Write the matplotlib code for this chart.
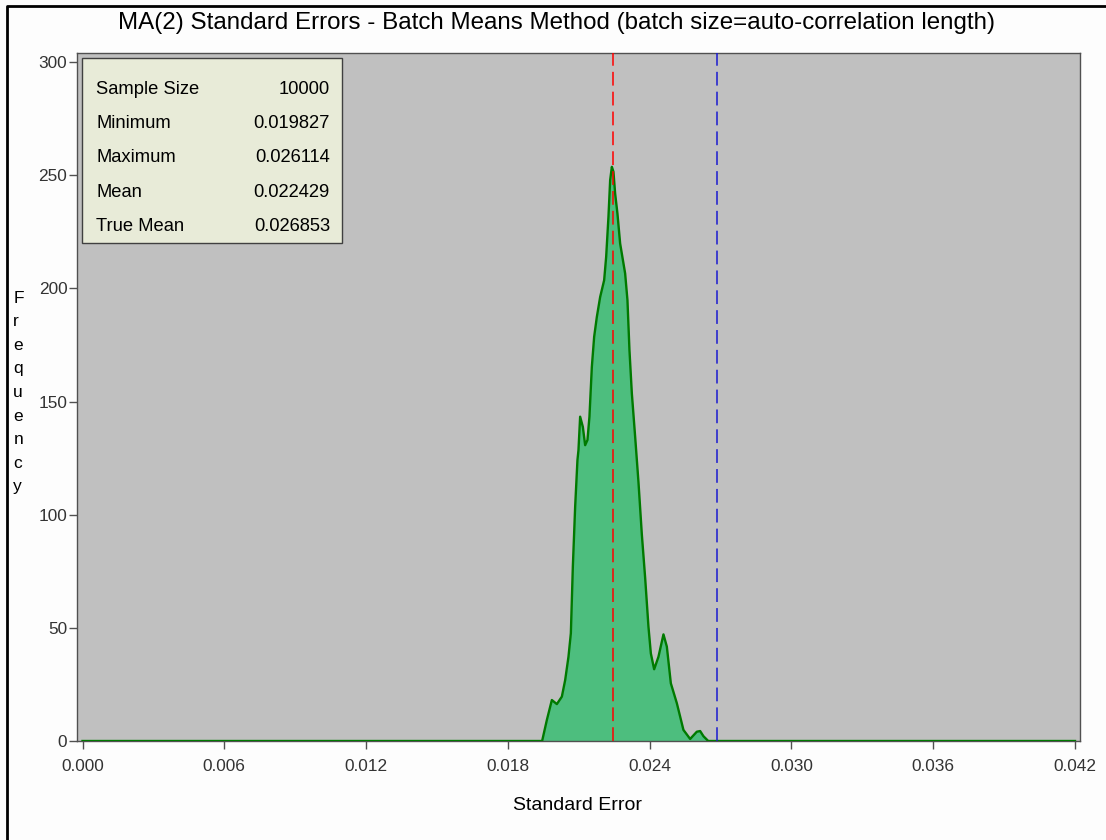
import numpy as np
import matplotlib
matplotlib.use("Agg")
import matplotlib.pyplot as plt
from matplotlib.patches import Rectangle
from matplotlib.lines import Line2D

# density of the simulated standard errors (frequency vs standard error)
se_grid = [0.0, 0.01945, 0.019651, 0.019862, 0.020074, 0.020285, 0.020425,
           0.020565, 0.020666, 0.020750, 0.020848, 0.020945, 0.020988,
           0.021059, 0.021173, 0.021271, 0.021369, 0.021453, 0.021554,
           0.021652, 0.021766, 0.021906, 0.022075, 0.022160, 0.022257,
           0.022329, 0.022401, 0.022469, 0.022540, 0.022637, 0.022752,
           0.022963, 0.023061, 0.023146, 0.023247, 0.023387, 0.023528,
           0.023669, 0.023810, 0.023950, 0.024051, 0.024191, 0.024373,
           0.024585, 0.024728, 0.024897, 0.025151, 0.025430, 0.025714,
           0.025997, 0.026137, 0.026278, 0.026480, 0.042]
freq = [0, 0, 9.3, 18.1, 16.3, 19.6, 26.9,
        37.2, 47.6, 77.0, 103.5, 124.1, 128.5,
        143.3, 138.8, 130.7, 133.0, 143.3, 165.3,
        178.6, 187.4, 196.2, 203.6, 213.9, 231.6,
        247.8, 253.7, 251.5, 241.9, 233.1, 219.8,
        206.6, 194.8, 172.7, 153.6, 134.4, 114.3,
        91.4, 72.1, 50.5, 38.7, 31.7, 37.2,
        47.1, 41.7, 25.5, 16.7, 4.9, 0.9,
        4.1, 4.4, 2.1, 0, 0]

stat_names = ["Sample Size", "Minimum", "Maximum", "Mean", "True Mean"]
stat_values = ["10000", "0.019827", "0.026114", "0.022429", "0.026853"]
mean_se = float(stat_values[3])
true_mean = float(stat_values[4])

x_ticks = [0.000, 0.006, 0.012, 0.018, 0.024, 0.030, 0.036, 0.042]
y_ticks = [0, 50, 100, 150, 200, 250, 300]

W, H = 1106, 840
plt.rcParams['font.family'] = ['Liberation Sans', 'DejaVu Sans']

fig = plt.figure(figsize=(W / 100, H / 100), dpi=100)
fig.patch.set_facecolor('#FDFDFD')

# axes box in pixels: left 77, right 1080, top 53, bottom 741
L, R, T, B = 77, 1080, 53, 741
ax = fig.add_axes([L / W, 1 - B / H, (R - L) / W, (B - T) / H])
ax.set_facecolor('#C0C0C0')

ax.fill_between(se_grid, freq, 0, color='#4DBE7E', lw=0, zorder=2)
ax.plot(se_grid, freq, color='#007A00', lw=1.7, zorder=3, solid_joinstyle='round')

ax.axvline(mean_se, color='#FF0000', lw=1.1, dashes=(9, 4), zorder=4)
ax.axvline(true_mean, color='#1A1AD0', lw=1.1, dashes=(9, 4), zorder=4)

ax.set_xlim(-0.000233, 0.042212)
ax.set_ylim(0, 304)
ax.set_xticks(x_ticks)
ax.set_xticklabels(["%.3f" % t for t in x_ticks])
ax.set_yticks(y_ticks)
ax.tick_params(axis='both', colors='#505050', labelcolor='#333333',
               labelsize=12.4, length=6, width=1)
ax.tick_params(axis='x', pad=7)
ax.tick_params(axis='y', pad=1)
for s in ax.spines.values():
    s.set_color('#505050')
    s.set_linewidth(1)

# stats inset
def afrac(px, py):
    return (px - L) / (R - L), 1 - (py - T) / (B - T)

bx0, by0 = afrac(82, 243)
bx1, by1 = afrac(342, 58)
ax.add_patch(Rectangle((bx0, by0), bx1 - bx0, by1 - by0, transform=ax.transAxes,
                       facecolor='#E8EBD8', edgecolor='#404040', lw=1, zorder=6))
baselines = [94, 128.3, 162.5, 196.7, 230.9]
for name, val, yb in zip(stat_names, stat_values, baselines):
    tx, ty = afrac(96, yb)
    ax.text(tx, ty, name, transform=ax.transAxes, fontsize=13.2,
            va='baseline', ha='left', color='black', zorder=7)
    tx, ty = afrac(330, yb)
    ax.text(tx, ty, val, transform=ax.transAxes, fontsize=13.2,
            va='baseline', ha='right', color='black', zorder=7)

fig.text(556 / W, 1 - 28.5 / H,
         "MA(2) Standard Errors - Batch Means Method (batch size=auto-correlation length)",
         fontsize=17.4, ha='center', va='baseline', color='black')

fig.text(577.5 / W, 1 - 810 / H, "Standard Error", fontsize=14,
         ha='center', va='baseline', color='black')

# vertical stacked y label
for i, ch in enumerate("Frequency"):
    fig.text(13.3 / W, 1 - (302.7 + i * 23.6) / H, ch, fontsize=12.5,
             ha='left', va='baseline', color='black')

# outer frame on left and top
fig.add_artist(Line2D([7 / W, 7 / W, 1.0], [0.0, 1 - 6 / H, 1 - 6 / H],
                      transform=fig.transFigure, color='black', lw=2))

fig.savefig("out.png", dpi=100, facecolor=fig.get_facecolor())
